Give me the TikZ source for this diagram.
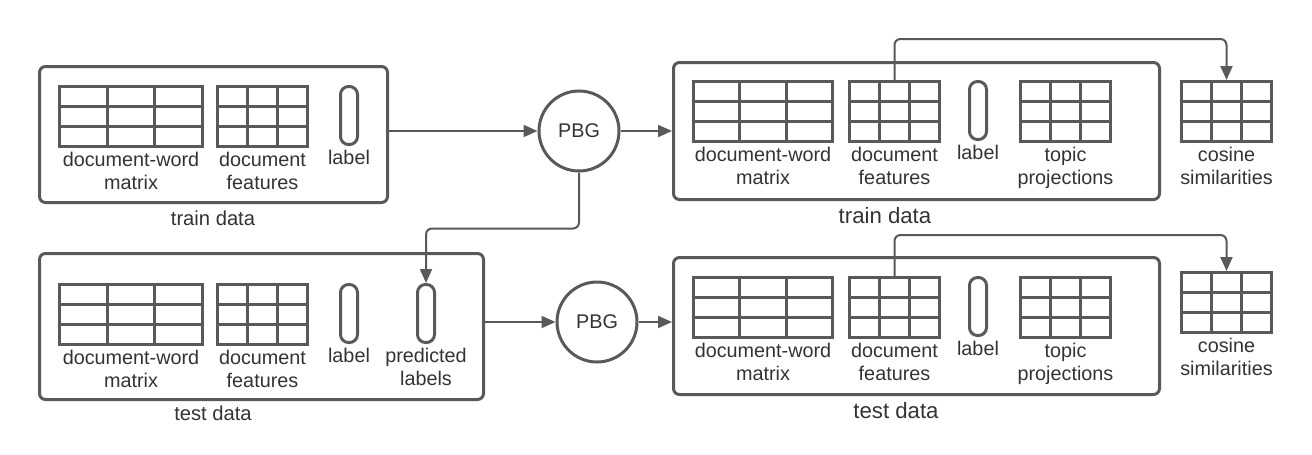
\documentclass[tikz,border=0pt]{standalone}
\usepackage{fontspec}
\setmainfont{Liberation Sans}
\usetikzlibrary{positioning,calc,arrows.meta}
\definecolor{ln}{HTML}{595959}
\definecolor{tx}{HTML}{333333}
\begin{document}
\begin{tikzpicture}[x=1pt,y=-1pt,
  grid/.style={draw=ln, line width=3pt, inner sep=0pt, minimum width=#1, minimum height=60, anchor=north west,
    path picture={
      \foreach \k in {1,2} {
        \draw[ln, line width=3pt] ($(path picture bounding box.north west)!\k/3!(path picture bounding box.north east)$) -- ($(path picture bounding box.south west)!\k/3!(path picture bounding box.south east)$);
        \draw[ln, line width=3pt] ($(path picture bounding box.north west)!\k/3!(path picture bounding box.south west)$) -- ($(path picture bounding box.north east)!\k/3!(path picture bounding box.south east)$);
      }}},
  grid/.default=90,
  pill/.style={draw=ln, line width=3pt, rounded corners=8pt, inner sep=0pt, minimum width=17, minimum height=58, anchor=north west},
  databox/.style={draw=ln, line width=3pt, rounded corners=6pt, inner sep=0pt, anchor=north west},
  pbg/.style={draw=ln, line width=3pt, circle, inner sep=0pt, minimum size=80, text=tx, font=\fontsize{19.8}{22}\selectfont},
  txt/.style={align=center, inner sep=1pt, text=tx, font=\fontsize{19.8}{23}\selectfont},
  cap/.style={inner sep=1pt, anchor=base, text=tx, font=\fontsize{#1}{22}\selectfont},
  conn/.style={draw=ln, line width=2pt, -{Triangle[length=14pt,width=12pt]}},
  link/.style={conn, rounded corners=6pt}]

\useasboundingbox (0,0) rectangle (1312,455);

% train data, left
\node[databox, minimum width=348, minimum height=136] (trainL) at (38,65) {};
\node[grid=143] (dwA) at (58,85) {};
\node[grid] (dfA) at (216,85) {};
\node[pill] (lbA) at (339,85) {};
\node[txt, below=3pt of dwA] (dwAt) {document-word\\matrix};
\node[txt, below=3pt of dfA] (dfAt) {document\\features};
\node[txt, below=3pt of lbA] (lbAt) {label};
\node[cap=20.2] (trainLt) at (213,225) {train data};

% test data, left
\node[databox, minimum width=444, minimum height=146] (testL) at (38,252) {};
\node[grid=143] (dwB) at (58,283) {};
\node[grid] (dfB) at (216,283) {};
\node[pill] (lbB) at (339,283) {};
\node[pill] (prB) at (416,283) {};
\node[txt, below=3pt of dwB] (dwBt) {document-word\\matrix};
\node[txt, below=3pt of dfB] (dfBt) {document\\features};
\node[txt, below=3pt of lbB] (lbBt) {label};
\node[txt, below=3pt of prB] (prBt) {predicted\\labels};
\node[cap=20.2] (testLt) at (213,420) {test data};

% PBG
\node[pbg] (pbgA) at (579,131) {PBG};
\node[pbg] (pbgB) at (597,322) {PBG};

% train data, right
\node[databox, minimum width=486, minimum height=137] (trainR) at (672,61) {};
\node[grid=139] (dwC) at (692,80) {};
\node[grid] (dfC) at (848,80) {};
\node[pill] (lbC) at (968,80) {};
\node[grid] (tpC) at (1019,80) {};
\node[grid] (csC) at (1180,80) {};
\node[txt, below=3pt of dwC] (dwCt) {document-word\\matrix};
\node[txt, below=3pt of dfC] (dfCt) {document\\features};
\node[txt, below=3pt of lbC] (lbCt) {label};
\node[txt, below=3pt of tpC] (tpCt) {topic\\projections};
\node[txt, below=3pt of csC] (csCt) {cosine\\similarities};
\node[cap=22.2] (trainRt) at (885,223) {train data};

% test data, right
\node[databox, minimum width=486, minimum height=137] (testR) at (672,256) {};
\node[grid=139] (dwD) at (692,276) {};
\node[grid] (dfD) at (848,276) {};
\node[pill] (lbD) at (968,276) {};
\node[grid] (tpD) at (1019,276) {};
\node[grid] (csD) at (1180,271) {};
\node[txt, below=3pt of dwD] (dwDt) {document-word\\matrix};
\node[txt, below=3pt of dfD] (dfDt) {document\\features};
\node[txt, below=3pt of lbD] (lbDt) {label};
\node[txt, below=3pt of tpD] (tpDt) {topic\\projections};
\node[txt, below=3pt of csD] (csDt) {cosine\\similarities};
\node[cap=22.2] (testRt) at (896,418) {test data};

% connectors
\draw[conn] (trainL.east |- pbgA.west) -- (pbgA.west);
\draw[conn] (pbgA.east) -- (pbgA.east -| trainR.west);
\draw[conn] (testL.east |- pbgB.west) -- (pbgB.west);
\draw[conn] (pbgB.east) -- (pbgB.east -| testR.west);
\draw[link] (pbgA.south) -- ++(0,56) -| (prB.north);
\draw[link] (dfC.north) -- ++(0,-41) -| (csC.north);
\draw[link] (dfD.north) -- ++(0,-41) -| (csD.north);

\end{tikzpicture}
\end{document}
